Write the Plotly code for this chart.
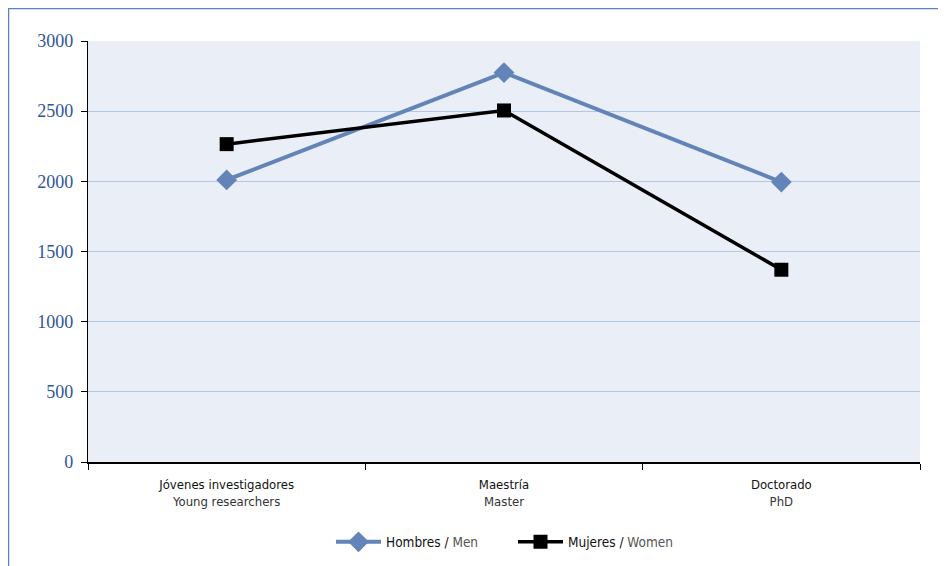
import plotly.graph_objects as go

categories = [
    "<span style='color:#111'>Jóvenes investigadores</span><br><span style='color:#333'>Young researchers</span>",
    "<span style='color:#111'>Maestría</span><br><span style='color:#333'>Master</span>",
    "<span style='color:#111'>Doctorado</span><br><span style='color:#333'>PhD</span>",
]
men = [2010, 2775, 1995]
women = [2265, 2505, 1370]
y_ticks = [0, 500, 1000, 1500, 2000, 2500, 3000]

narrow = "Liberation Sans Narrow, DejaVu Sans Condensed, Arial Narrow, sans-serif"

fig = go.Figure()
fig.add_trace(go.Scatter(
    x=categories, y=men, mode="lines+markers",
    name="<span style='color:#111'>Hombres /</span><span style='color:#555'> Men</span>",
    line=dict(color="#6284B9", width=4),
    marker=dict(symbol="diamond", size=16, color="#6284B9"),
))
fig.add_trace(go.Scatter(
    x=categories, y=women, mode="lines+markers",
    name="<span style='color:#111'>Mujeres /</span><span style='color:#555'> Women</span>",
    line=dict(color="#000000", width=3.5),
    marker=dict(symbol="square", size=14, color="#000000"),
))

# page body has an 8px margin; figure starts at window (8, 8)
OFF = 8
W, H = 946 - OFF, 566 - OFF
L, T = 88 - OFF, 41 - OFF
R = W - (920 - OFF)
B = H - (462 - OFF)
pw, ph = W - L - R, H - T - B

def px(x):
    return (x - OFF - L) / pw

def py(y):
    return (H - B - (y - OFF)) / ph

fig.update_layout(
    width=W, height=H,
    margin=dict(l=L, r=R, t=T, b=B, autoexpand=False),
    paper_bgcolor="white",
    plot_bgcolor="#EAEFF7",
    showlegend=True,
    legend=dict(
        orientation="h", x=px(331), xanchor="left", y=py(542), yanchor="middle",
        font=dict(family=narrow, size=13.5, color="#111"),
        bgcolor="rgba(0,0,0,0)",
        entrywidth=122, entrywidthmode="pixels",
        itemwidth=45,
    ),
    xaxis=dict(
        type="category",
        tickson="boundaries",
        ticks="outside", ticklen=6, tickcolor="#000", tickwidth=1,
        showline=True, linecolor="#000", linewidth=1.5,
        showgrid=False,
        tickfont=dict(family=narrow, size=13, color="#111"),
        ticklabelstandoff=10,
        range=[-0.5, 2.5],
    ),
    yaxis=dict(
        range=[0, 3000],
        tickvals=y_ticks,
        ticks="outside", ticklen=6, tickcolor="#000", tickwidth=1,
        showline=True, linecolor="#000", linewidth=1.2,
        showgrid=True, gridcolor="#B3C7E3", gridwidth=1,
        zeroline=False,
        tickfont=dict(family="Liberation Serif, Times New Roman, serif", size=18, color="#2F559A"),
        ticklabelstandoff=4,
    ),
    shapes=[
        dict(type="line", xref="paper", yref="paper", x0=px(8), x1=px(946), y0=py(8.5), y1=py(8.5),
             line=dict(color="#5A82C2", width=1.5)),
        dict(type="line", xref="paper", yref="paper", x0=px(8.5), x1=px(8.5), y0=py(8), y1=py(566),
             line=dict(color="#5A82C2", width=1.5)),
    ],
)

fig.write_html("out.html")
